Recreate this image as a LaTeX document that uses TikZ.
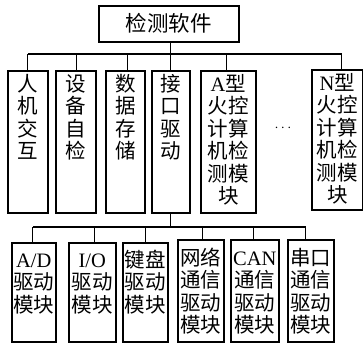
\documentclass[tikz,border=0pt]{standalone}
\usepackage{fontspec}
\setmainfont{Liberation Serif}
\newfontfamily\cjk{Noto Sans CJK SC}
\newcommand\bt[4]{\parbox[t][#1][t]{#2}{\vspace*{#3}\centering\fontsize{20.5}{22.5}\selectfont\rule{0pt}{17.6pt}#4}}
\begin{document}
\begin{tikzpicture}[x=1pt,y=1pt,
  bx/.style={draw, line width=1.5pt, inner sep=0pt, anchor=north west},
  conn/.style={line width=1.1pt}]
\useasboundingbox (0,0) rectangle (363,-343);
% top
\node[bx, minimum width=140pt, minimum height=36pt] (top) at (98,-5) {\fontsize{21.5}{22}\selectfont\cjk 检测软件};
% level 2
\node[bx, minimum width=40pt, minimum height=142pt] (b1) at (7,-70) {\bt{142pt}{40pt}{3pt}{{\cjk 人\\机\\交\\互}}};
\node[bx, minimum width=40pt, minimum height=142pt] (b2) at (55,-70) {\bt{142pt}{40pt}{3pt}{{\cjk 设\\备\\自\\检}}};
\node[bx, minimum width=39pt, minimum height=142pt] (b3) at (105,-70) {\bt{142pt}{39pt}{3pt}{{\cjk 数\\据\\存\\储}}};
\node[bx, minimum width=38pt, minimum height=142pt] (b4) at (151,-70) {\bt{142pt}{38pt}{3pt}{{\cjk 接\\口\\驱\\动}}};
\node[bx, minimum width=55pt, minimum height=142pt] (b5) at (200,-70) {\bt{142pt}{55pt}{3pt}{A{\cjk 型\\火控\\计算\\机检\\测模\\块}}};
\node[bx, minimum width=51pt, minimum height=140pt] (b6) at (311,-69) {\bt{140pt}{51pt}{3pt}{N{\cjk 型\\火控\\计算\\机检\\测模\\块}}};
\node (dots) at (283,-128) {\fontsize{14}{14}\selectfont$\cdots$};
% level 3
\node[bx, minimum width=44pt, minimum height=99pt] (c1) at (11,-242) {\bt{99pt}{44pt}{7pt}{A/D\\{\cjk 驱动\\模块}}};
\node[bx, minimum width=47pt, minimum height=99pt] (c2) at (68,-242) {\bt{99pt}{47pt}{7pt}{I/O\\{\cjk 驱动\\模块}}};
\node[bx, minimum width=45pt, minimum height=99pt] (c3) at (122,-242) {\bt{99pt}{45pt}{7pt}{{\cjk 键盘\\驱动\\模块}}};
\node[bx, minimum width=46pt, minimum height=102pt] (c4) at (177,-239) {\bt{102pt}{46pt}{8pt}{{\cjk 网络\\通信\\驱动\\模块}}};
\node[bx, minimum width=48pt, minimum height=102pt] (c5) at (230,-239) {\bt{102pt}{48pt}{8pt}{CAN\\{\cjk 通信\\驱动\\模块}}};
\node[bx, minimum width=46pt, minimum height=102pt] (c6) at (287,-239) {\bt{102pt}{46pt}{8pt}{{\cjk 串口\\通信\\驱动\\模块}}};
% connectors level 1-2
\coordinate (j1) at (170,-54);
\draw[conn] (top.south -| b4.north) -- (b4.north);
\draw[conn] (b1.north |- j1) -- ([xshift=4.5pt]b6.north |- j1);
\foreach \n/\s in {b1/0,b2/0.5,b3/2.5,b5/-1.5,b6/4.5}
  \draw[conn] ([xshift=\s pt]\n.north) -- ([xshift=\s pt]\n.north |- j1);
% connectors level 2-3
\coordinate (j2) at (170,-227);
\draw[conn] (b4.south) -- (b4.south |- j2);
\draw[conn] ([xshift=-1pt]c1.north |- j2) -- ([xshift=-5pt]c6.north |- j2);
\foreach \n/\s in {c1/-1,c2/2.5,c3/0.5,c4/2,c5/-1,c6/-5}
  \draw[conn] ([xshift=\s pt]\n.north) -- ([xshift=\s pt]\n.north |- j2);
\end{tikzpicture}
\end{document}
